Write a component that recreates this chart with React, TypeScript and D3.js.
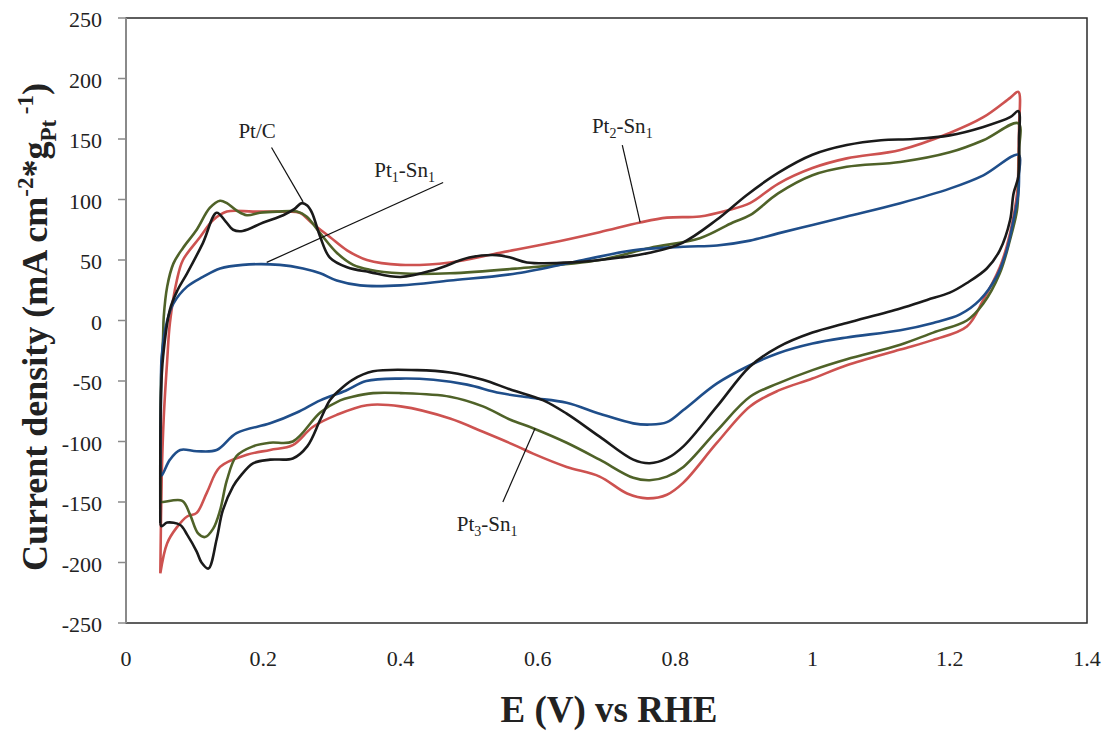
import React from "react";
import * as d3 from "d3";

const xTicks = [0, 0.2, 0.4, 0.6, 0.8, 1, 1.2, 1.4];
const yTicks = [250, 200, 150, 100, 50, 0, -50, -100, -150, -200, -250];

const ptC: [number, number][] = [
  [0.05, -168], [0.051, -60], [0.054, -30], [0.064, 9], [0.075, 25], [0.089, 39], [0.112, 64], [0.132, 89],
  [0.145, 82], [0.156, 75], [0.17, 74], [0.2, 81], [0.229, 87], [0.245, 92], [0.256, 97], [0.264, 95],
  [0.271, 89], [0.283, 69], [0.297, 52], [0.322, 44], [0.355, 40], [0.4, 36], [0.45, 42], [0.5, 52],
  [0.54, 54], [0.56, 52], [0.584, 48], [0.65, 48], [0.72, 52], [0.763, 56], [0.81, 64], [0.86, 83],
  [0.905, 104], [0.95, 122], [1.0, 137], [1.05, 145], [1.1, 149], [1.147, 150], [1.2, 153], [1.249, 160],
  [1.288, 168], [1.3, 173],
  [1.301, 150], [1.3, 119], [1.293, 105], [1.288, 83], [1.273, 58], [1.254, 43], [1.225, 31], [1.2, 23],
  [1.167, 17], [1.128, 10], [1.05, -2], [1.0, -10], [0.95, -22], [0.909, -38], [0.861, -71], [0.812, -104],
  [0.788, -114], [0.763, -118], [0.739, -115], [0.69, -96], [0.642, -77], [0.608, -66], [0.56, -57],
  [0.52, -49], [0.472, -43], [0.424, -41], [0.36, -42], [0.33, -49], [0.31, -58], [0.297, -66], [0.283, -82],
  [0.264, -104], [0.243, -114], [0.21, -115], [0.185, -118], [0.166, -129], [0.156, -137], [0.141, -157],
  [0.132, -181], [0.12, -205], [0.11, -200], [0.103, -191], [0.089, -177], [0.079, -169], [0.06, -167],
  [0.052, -170], [0.05, -168],
];

const pt3Sn1: [number, number][] = [
  [0.05, -150], [0.051, -50], [0.054, -14], [0.055, 3], [0.06, 28], [0.069, 47], [0.083, 60], [0.103, 75],
  [0.122, 93], [0.137, 99], [0.147, 97], [0.161, 91], [0.176, 87], [0.195, 89], [0.22, 90], [0.249, 90],
  [0.263, 86], [0.283, 72], [0.307, 56], [0.331, 46], [0.355, 42], [0.4, 39], [0.472, 39], [0.57, 43],
  [0.69, 50], [0.763, 60], [0.836, 68], [0.884, 81], [0.909, 87], [0.95, 105], [1.0, 120], [1.05, 127],
  [1.128, 131], [1.2, 139], [1.249, 149], [1.3, 163],
  [1.301, 140], [1.3, 110], [1.298, 91], [1.288, 67], [1.273, 39], [1.249, 14], [1.225, 0], [1.176, -10],
  [1.128, -20], [1.05, -32], [1.0, -41], [0.95, -52], [0.909, -63], [0.861, -91], [0.812, -121],
  [0.788, -129], [0.763, -132], [0.739, -130], [0.69, -115], [0.642, -101], [0.593, -89], [0.56, -82],
  [0.52, -71], [0.472, -63], [0.4, -60], [0.36, -60], [0.33, -63], [0.312, -66], [0.283, -76], [0.243, -100],
  [0.21, -101], [0.185, -104], [0.161, -112], [0.147, -132], [0.137, -157], [0.127, -172], [0.115, -179],
  [0.105, -176], [0.093, -160], [0.082, -149], [0.054, -150], [0.05, -150],
];

const pt2Sn1: [number, number][] = [
  [0.05, -209], [0.052, -130], [0.055, -80], [0.06, -33], [0.064, -2], [0.074, 33], [0.083, 50], [0.108, 69],
  [0.127, 83], [0.147, 90], [0.185, 90], [0.234, 90], [0.253, 89], [0.272, 80], [0.297, 69], [0.322, 58],
  [0.351, 50], [0.4, 46], [0.472, 48], [0.545, 56], [0.618, 64], [0.69, 73], [0.749, 81], [0.788, 85],
  [0.836, 86], [0.876, 91], [0.909, 97], [0.95, 113], [1.0, 126], [1.05, 134], [1.128, 141], [1.2, 155],
  [1.249, 168], [1.288, 184], [1.3, 189],
  [1.301, 160], [1.3, 133], [1.299, 110], [1.293, 86], [1.283, 61], [1.273, 44], [1.249, 17], [1.225, -5],
  [1.176, -16], [1.128, -24], [1.05, -37], [1.0, -48], [0.95, -58], [0.909, -71], [0.861, -101],
  [0.812, -134], [0.788, -144], [0.759, -147], [0.73, -143], [0.69, -129], [0.642, -121], [0.593, -110],
  [0.57, -104], [0.52, -92], [0.472, -81], [0.4, -71], [0.351, -70], [0.307, -78], [0.272, -88],
  [0.243, -103], [0.21, -107], [0.176, -111], [0.137, -121], [0.118, -142], [0.103, -159], [0.089, -162],
  [0.074, -171], [0.06, -184], [0.05, -209],
];

const pt1Sn1: [number, number][] = [
  [0.05, -128], [0.051, -60], [0.052, -30], [0.06, 0], [0.069, 14], [0.089, 28], [0.112, 36], [0.137, 43],
  [0.17, 46], [0.224, 46], [0.258, 43], [0.283, 39], [0.307, 33], [0.341, 29], [0.4, 29], [0.472, 33],
  [0.57, 39], [0.666, 50], [0.739, 58], [0.812, 61], [0.861, 62], [0.909, 66], [0.95, 72], [1.0, 79],
  [1.05, 86], [1.128, 97], [1.2, 109], [1.249, 120], [1.3, 137],
  [1.301, 120], [1.3, 105], [1.293, 83], [1.283, 58], [1.268, 36], [1.244, 17], [1.215, 5], [1.176, -2],
  [1.128, -8], [1.05, -14], [1.0, -19], [0.95, -27], [0.909, -37], [0.861, -52], [0.812, -74], [0.788, -84],
  [0.763, -86], [0.739, -85], [0.69, -77], [0.642, -68], [0.593, -64], [0.545, -60], [0.497, -53],
  [0.448, -49], [0.4, -48], [0.35, -50], [0.32, -58], [0.283, -66], [0.249, -76], [0.21, -85], [0.161, -93],
  [0.132, -107], [0.103, -108], [0.079, -107], [0.064, -115], [0.052, -128], [0.05, -128],
];

const seriesNames = ["Pt2-Sn1", "Pt3-Sn1", "Pt1-Sn1", "Pt/C"];
const seriesData = [pt2Sn1, pt3Sn1, pt1Sn1, ptC];
const seriesColors = ["#cd5250", "#4f6228", "#1f4e8a", "#1a1a1a"];

const annotations = [
  { parts: ["Pt/C"], text: [0.191, 151], from: [0.212, 143], to: [0.258, 98] },
  { parts: ["Pt", "1", "-Sn", "1"], text: [0.406, 119], from: [0.462, 114], to: [0.205, 48] },
  { parts: ["Pt", "2", "-Sn", "1"], text: [0.723, 155], from: [0.723, 145], to: [0.749, 81] },
  { parts: ["Pt", "3", "-Sn", "1"], text: [0.526, -174], from: [0.549, -150], to: [0.596, -89] },
];

const W = 1113;
const H = 731;
const M = { left: 126, right: 1087, top: 18, bottom: 623 };

export default function App() {
  const x = d3.scaleLinear().domain([0, 1.4]).range([M.left, M.right]);
  const y = d3.scaleLinear().domain([-250, 250]).range([M.bottom, M.top]);
  const line = d3
    .line<[number, number]>()
    .x((d) => x(d[0]))
    .y((d) => y(d[1]))
    .curve(d3.curveCatmullRom.alpha(0.5));

  const serif = "'Liberation Serif', 'DejaVu Serif', serif";

  return (
    <svg
      width={W}
      height={H}
      style={{ position: "absolute", left: 0, top: 0, background: "#fff" }}
      fontFamily={serif}
    >
      <rect x={0} y={0} width={W} height={H} fill="#fff" />
      <rect
        x={M.left}
        y={M.top}
        width={M.right - M.left}
        height={M.bottom - M.top}
        fill="none"
        stroke="#2a2a2a"
        strokeWidth={1.5}
      />
      <line x1={M.left} x2={M.left} y1={M.top} y2={M.bottom} stroke="#8a8a8a" strokeWidth={2} />
      {yTicks.map((t) => (
        <g key={"y" + t}>
          <line x1={M.left - 8} x2={M.left} y1={y(t)} y2={y(t)} stroke="#8a8a8a" strokeWidth={1.5} />
          <text x={102} y={y(t) + 4} textAnchor="end" dominantBaseline="middle" fontSize={22} fill="#222">
            {t}
          </text>
        </g>
      ))}
      {xTicks.map((t) => (
        <text key={"x" + t} x={x(t)} y={666} textAnchor="middle" fontSize={22} fill="#222">
          {t}
        </text>
      ))}
      {seriesData.map((s, i) => (
        <path
          key={seriesNames[i]}
          d={line(s) || ""}
          fill="none"
          stroke={seriesColors[i]}
          strokeWidth={2.6}
          strokeLinejoin="round"
        />
      ))}
      {annotations.map((a, i) => (
        <g key={"a" + i}>
          <line
            x1={x(a.from[0])}
            y1={y(a.from[1])}
            x2={x(a.to[0])}
            y2={y(a.to[1])}
            stroke="#111"
            strokeWidth={1.2}
          />
          <text x={x(a.text[0])} y={y(a.text[1])} textAnchor="middle" fontSize={21} fill="#222">
            {a.parts.length === 1 ? (
              a.parts[0]
            ) : (
              <>
                <tspan>{a.parts[0]}</tspan>
                <tspan fontSize={14} dy={5}>{a.parts[1]}</tspan>
                <tspan dy={-5}>{a.parts[2]}</tspan>
                <tspan fontSize={14} dy={5}>{a.parts[3]}</tspan>
              </>
            )}
          </text>
        </g>
      ))}
      <text x={609} y={722} textAnchor="middle" fontSize={37} fontWeight="bold" fill="#222">
        E (V) vs RHE
      </text>
      <text
        transform={`translate(47, 327) rotate(-90)`}
        textAnchor="middle"
        fontSize={36}
        fontWeight="bold"
        fill="#222"
      >
        <tspan>Current density (mA cm</tspan>
        <tspan fontSize={23} dy={-14}>-2</tspan>
        <tspan dy={14}>*g</tspan>
        <tspan fontSize={23} dy={9}>Pt</tspan>
        <tspan fontSize={23} dy={-23}> -1</tspan>
        <tspan dy={14}>)</tspan>
      </text>
    </svg>
  );
}
